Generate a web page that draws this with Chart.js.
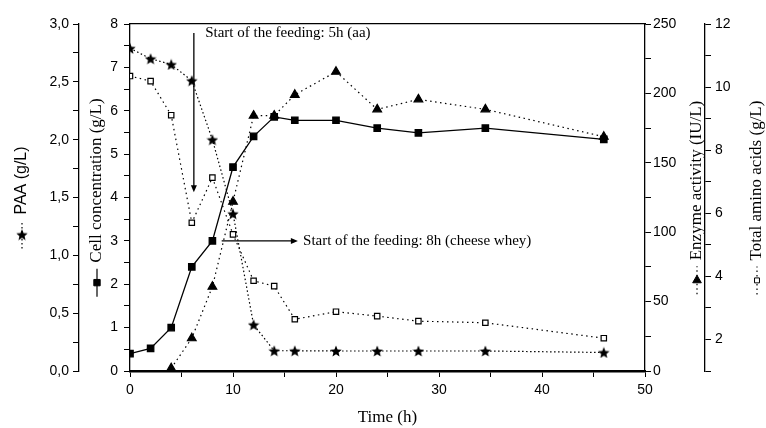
<!DOCTYPE html>
<html>
<head>
<meta charset="utf-8">
<script src="https://cdn.jsdelivr.net/npm/chart.js@4.4.0/dist/chart.umd.min.js"></script>
<style>
  html, body { margin: 0; padding: 0; background: #fff; }
</style>
</head>
<body>
<canvas id="chart" width="766" height="428"></canvas>
<script>
// data (time in h)
const timePoints = [0, 2, 4, 6, 8, 10, 12, 14, 16, 20, 24, 28, 34.5, 46];
const cellConc = [0.4, 0.52, 1.0, 2.4, 3.0, 4.7, 5.41, 5.86, 5.78, 5.78, 5.6, 5.49, 5.6, 5.34];
const paaConc = [2.79, 2.70, 2.65, 2.51, 2.0, 1.36, 0.40, 0.175, 0.175, 0.173, 0.173, 0.173, 0.173, 0.16];
const aminoConc = [10.35, 10.19, 9.11, 5.70, 7.13, 5.33, 3.86, 3.69, 2.64, 2.88, 2.74, 2.58, 2.53, 2.04];
const enzymeTime = [4, 6, 8, 10, 12, 14, 16, 20, 24, 28, 34.5, 46];
const enzymeAct = [2, 23.6, 60.7, 122, 184, 184, 199, 215.6, 188.5, 195.7, 188.5, 168.8];

const xTicks = [0, 10, 20, 30, 40, 50];

// feeding annotations (time, cell concentration coords)
const feedAa = { text: 'Start of the feeding: 5h (aa)', x: 6.2, yFrom: 7.79, yTo: 4.12, textX: 7.3 };
const feedWhey = { text: 'Start of the feeding: 8h (cheese whey)', y: 3.0, xFrom: 8.9, xTo: 16.3, textX: 16.8 };

const pts = (xs, ys) => xs.map((x, i) => ({ x: x, y: ys[i] }));

function starImage(size) {
  const c = document.createElement('canvas');
  c.width = c.height = size;
  const g = c.getContext('2d');
  const cx = size / 2, cy = size / 2 + 0.6, R = size / 2, r = R * 0.45;
  g.beginPath();
  for (let i = 0; i < 10; i++) {
    const a = -Math.PI / 2 + i * Math.PI / 5;
    const rr = i % 2 ? r : R;
    g.lineTo(cx + rr * Math.cos(a), cy + rr * Math.sin(a));
  }
  g.closePath();
  g.fillStyle = '#000';
  g.fill();
  return c;
}
const star = starImage(12);

const tickFont = { family: 'Liberation Sans', size: 14 };
const serif = 'Liberation Serif';

// titles with the little legend sample in front, drawn bottom-to-top
const yTitles = {
  yPaa: { text: 'PAA (g/L)', font: '16px "Liberation Sans"', off: 22, dash: [1.5, 2.5], style: star, radius: 5 },
  yCell: { text: 'Cell concentration (g/L)', font: '17px "Liberation Serif"', off: 18, dash: [], style: 'rect', radius: 4.5 },
  yEnz: { text: 'Enzyme activity (IU/L)', font: '17px "Liberation Serif"', off: 52, dash: [1.5, 3], style: 'triangle', radius: 5 },
  yAmino: { text: 'Total amino acids (g/L)', font: '17px "Liberation Serif"', off: 52, dash: [1.5, 3], style: 'rect', radius: 3.5, open: true }
};

const titlePlugin = {
  id: 'titlePlugin',
  afterDraw(chart) {
    const ctx = chart.ctx;
    const area = chart.chartArea;
    const cy = (area.top + area.bottom) / 2;
    Object.keys(yTitles).forEach(id => {
      const t = yTitles[id];
      const sc = chart.scales[id];
      const cx = sc.left + t.off;
      ctx.save();
      ctx.font = t.font;
      const tw = ctx.measureText(t.text).width;
      const lineLen = 9, mw = 10, gap = 6;
      const total = lineLen * 2 + mw + gap + tw;
      const yb = cy + total / 2;
      ctx.strokeStyle = '#000';
      ctx.lineWidth = 1.2;
      ctx.setLineDash(t.dash);
      ctx.beginPath();
      ctx.moveTo(cx, yb);
      ctx.lineTo(cx, yb - 2 * lineLen - mw);
      ctx.stroke();
      ctx.setLineDash([]);
      ctx.fillStyle = t.open ? '#fff' : '#000';
      ctx.lineWidth = 1;
      Chart.helpers.drawPoint(ctx, { pointStyle: t.style, radius: t.radius, borderWidth: 1, rotation: 0 }, cx, yb - lineLen - mw / 2);
      ctx.translate(cx, yb - 2 * lineLen - mw - gap);
      ctx.rotate(-Math.PI / 2);
      ctx.fillStyle = '#000';
      ctx.textAlign = 'left';
      ctx.textBaseline = 'middle';
      ctx.fillText(t.text, 0, 0);
      ctx.restore();
    });

    // feeding arrows
    const xs = chart.scales.x, ys = chart.scales.yCell;
    ctx.save();
    ctx.strokeStyle = '#000';
    ctx.fillStyle = '#000';
    ctx.lineWidth = 1.3;
    ctx.font = '15px "Liberation Serif"';
    ctx.textBaseline = 'middle';
    let ax = xs.getPixelForValue(feedAa.x);
    let ay0 = ys.getPixelForValue(feedAa.yFrom), ay1 = ys.getPixelForValue(feedAa.yTo);
    ctx.beginPath(); ctx.moveTo(ax, ay0); ctx.lineTo(ax, ay1 - 6); ctx.stroke();
    ctx.beginPath(); ctx.moveTo(ax - 3, ay1 - 7); ctx.lineTo(ax + 3, ay1 - 7); ctx.lineTo(ax, ay1); ctx.closePath(); ctx.fill();
    ctx.fillText(feedAa.text, xs.getPixelForValue(feedAa.textX), ay0);

    let by = ys.getPixelForValue(feedWhey.y);
    let bx0 = xs.getPixelForValue(feedWhey.xFrom), bx1 = xs.getPixelForValue(feedWhey.xTo);
    ctx.beginPath(); ctx.moveTo(bx0, by); ctx.lineTo(bx1 - 6, by); ctx.stroke();
    ctx.beginPath(); ctx.moveTo(bx1 - 7, by - 3); ctx.lineTo(bx1 - 7, by + 3); ctx.lineTo(bx1, by); ctx.closePath(); ctx.fill();
    ctx.fillText(feedWhey.text, xs.getPixelForValue(feedWhey.textX), by);
    ctx.restore();
  }
};

function yAxis(pos, weight, min, max, step, labelOf, width, pad) {
  return {
    type: 'linear', position: pos, weight: weight, min: min, max: max,
    ticks: { stepSize: step, autoSkip: false, font: tickFont, color: '#000', padding: pad, callback: labelOf },
    grid: { drawOnChartArea: false, drawTicks: true, tickLength: 6, color: '#000', lineWidth: 1 },
    border: { color: '#000', width: 1.3 },
    afterFit: s => { s.width = width; }
  };
}

const near = (v, m) => Math.abs(v / m - Math.round(v / m)) < 1e-6;

new Chart(document.getElementById('chart'), {
  type: 'line',
  data: {
    datasets: [
      {
        label: 'Cell concentration', data: pts(timePoints, cellConc), yAxisID: 'yCell',
        borderColor: '#000', borderWidth: 1.3, pointStyle: 'rect', pointRadius: 4.5,
        pointBackgroundColor: '#000', pointBorderColor: '#000', tension: 0
      },
      {
        label: 'PAA', data: pts(timePoints, paaConc), yAxisID: 'yPaa',
        borderColor: '#000', borderWidth: 1.2, borderDash: [1.5, 2.5], pointStyle: star, pointRadius: 5, tension: 0
      },
      {
        label: 'Enzyme activity', data: pts(enzymeTime, enzymeAct), yAxisID: 'yEnz',
        borderColor: '#000', borderWidth: 1.2, borderDash: [1.5, 3.5], pointStyle: 'triangle', pointRadius: 5,
        pointBackgroundColor: '#000', pointBorderColor: '#000', tension: 0
      },
      {
        label: 'Total amino acids', data: pts(timePoints, aminoConc), yAxisID: 'yAmino',
        borderColor: '#000', borderWidth: 1.2, borderDash: [1.5, 3.5], pointStyle: 'rect', pointRadius: 3.8,
        pointBackgroundColor: '#fff', pointBorderColor: '#000', pointBorderWidth: 1.2, tension: 0
      }
    ]
  },
  options: {
    responsive: false,
    animation: false,
    devicePixelRatio: 1,
    layout: { padding: { top: 24, left: 0, right: 0, bottom: 0 } },
    plugins: { legend: { display: false }, tooltip: { enabled: false } },
    scales: {
      x: {
        type: 'linear', position: 'bottom', min: 0, max: 50,
        ticks: {
          stepSize: 5, autoSkip: false, maxRotation: 0, font: tickFont, color: '#000', padding: 5,
          callback: v => xTicks.includes(v) ? v : ''
        },
        grid: { drawOnChartArea: false, drawTicks: true, tickLength: 6, color: '#000' },
        border: { color: '#000', width: 2.5 },
        title: { display: true, text: 'Time (h)', font: { family: serif, size: 17 }, color: '#000', padding: { top: 6, bottom: 0 } },
        afterFit: s => { s.height = 57; }
      },
      xTop: {
        type: 'linear', position: 'top', min: 0, max: 50,
        ticks: { display: false },
        grid: { display: false, drawTicks: false },
        border: { display: true, color: '#000', width: 1.3 },
        afterFit: s => { s.height = 0; }
      },
      yCell: yAxis('left', 0, 0, 8, 0.5, v => near(v, 1) ? v : '', 51, 6),
      yPaa: yAxis('left', 1, 0, 3, 0.25, v => near(v, 0.5) ? v.toFixed(1).replace('.', ',') : '', 79, 4),
      yEnz: yAxis('right', 0, 0, 250, 25, v => near(v, 50) ? v : '', 60, 2),
      yAmino: yAxis('right', 1, 1, 12, 1, v => near(v, 2) ? v : '', 61, 4)
    }
  },
  plugins: [titlePlugin]
});
</script>
</body>
</html>
